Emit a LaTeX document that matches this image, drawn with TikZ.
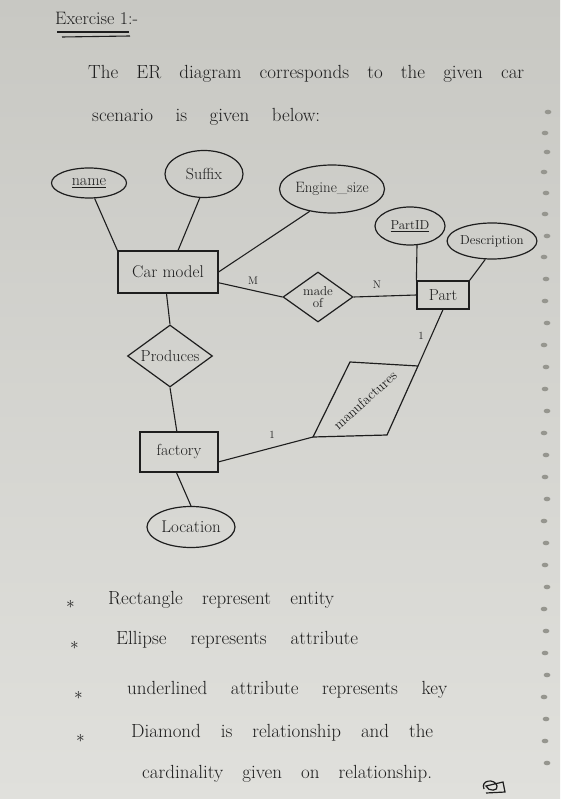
\documentclass[tikz,border=0pt]{standalone}
\usetikzlibrary{shapes.geometric}
\definecolor{ink}{HTML}{1E1E1E}
\definecolor{papertop}{HTML}{C8C8C3}
\definecolor{paperbot}{HTML}{E0E0DC}
\definecolor{holec}{HTML}{96968F}
\begin{document}
\begin{tikzpicture}[x=1pt,y=-1pt,
  every node/.style={text=ink, font=\fontsize{16}{18}\selectfont},
  attr/.style={ellipse, draw=ink, line width=1.2pt, inner sep=0pt},
  ent/.style={rectangle, draw=ink, line width=1.2pt, inner sep=0pt},
  rel/.style={diamond, draw=ink, line width=1.2pt, inner sep=0pt, shape aspect=1.4},
  conn/.style={draw=ink, line width=1.1pt},
  card/.style={font=\fontsize{11}{12}\selectfont, inner sep=0pt},
  txt/.style={anchor=west, inner sep=0pt, font=\fontsize{19}{21}\selectfont},
  hole/.style={fill=holec, draw=none}]
% paper
\shade[top color=papertop, bottom color=paperbot] (0,0) rectangle (560,799);
\useasboundingbox (0,0) rectangle (560,799);
% perforation marks
\foreach \yy/\xx in {112/548,133/545,152/547,172/544,193/546,214/545,236/547,257/544,279/546,301/545,323/547,345/544,367/546,389/545,411/547,433/544,455/546,477/545,499/547,521/544,543/546,565/545,587/547,609/544,631/546,653/545,675/547,697/544,719/546,741/545,763/547}
  \fill[hole] (\xx,\yy) ellipse (3.4pt and 2.3pt);

% heading
\node[txt, font=\fontsize{18}{20}\selectfont] (title) at (55,18) {Exercise 1:-};
\coordinate (ula) at (57,32); \coordinate (ulb) at (129,32);
\coordinate (ulc) at (62,37); \coordinate (uld) at (130,36);
\draw[conn] (ula) -- (ulb);
\draw[conn] (ulc) -- (uld);
\node[txt] (l1) at (88,74) {\makebox[436pt][s]{The ER diagram corresponds to the given car}};
\node[txt] (l2) at (92,117) {\makebox[228pt][s]{scenario is given below:}};

% attributes
\node[attr, minimum width=75pt, minimum height=30pt] (name) at (89,183) {\underline{name}};
\node[attr, minimum width=78pt, minimum height=47pt] (suffix) at (204,174) {Suffix};
\node[attr, minimum width=105pt, minimum height=48pt, font=\fontsize{15}{17}\selectfont] (engine) at (332,189) {Engine\_size};
\node[attr, minimum width=70pt, minimum height=38pt, font=\fontsize{13}{15}\selectfont] (partid) at (410,226) {\underline{PartID}};
\node[attr, minimum width=80pt, minimum height=36pt, font=\fontsize{13}{15}\selectfont] (desc) at (492,241) {Description};
\node[attr, minimum width=88pt, minimum height=41pt, font=\fontsize{17}{19}\selectfont] (loc) at (191,527) {Location};

% entities
\node[ent, minimum width=100pt, minimum height=42pt, font=\fontsize{17}{19}\selectfont] (car) at (168,272) {Car model};
\node[ent, minimum width=52pt, minimum height=28pt] (part) at (443,295) {Part};
\node[ent, minimum width=78pt, minimum height=40pt] (fac) at (179,452) {factory};

% relationships
\node[rel, minimum width=70pt, minimum height=50pt, align=center, font=\fontsize{13}{12}\selectfont] (made) at (318,297) {made\\of};
\node[rel, minimum width=85pt, minimum height=62pt] (prod) at (170,356) {Produces};

% manufactures (parallelogram)
\coordinate (mtl) at (350,362);
\coordinate (mtr) at (418,366);
\coordinate (mbr) at (387,435);
\coordinate (mbl) at (313,437);
\draw[conn, line width=1.2pt] (mtl) -- (mtr) -- (mbr) -- (mbl) -- cycle;
\node[rotate=42, font=\fontsize{14}{15}\selectfont, inner sep=0pt] (manu) at (365,400) {manufactures};

% connectors
\draw[conn] (name.-70) -- (car.north west);
\draw[conn] (suffix.-100) -- (car.65);
\draw[conn] (engine.-135) -- (car.east);
\draw[conn] (car.-12) -- (made.west);
\draw[conn] (made.east) -- (part.west);
\draw[conn] (partid.-70) -- (part.north west);
\draw[conn] (desc.-110) -- (part.north east);
\draw[conn] (car.-94) -- (prod.north);
\draw[conn] (prod.south) -- (fac.96);
\draw[conn] (fac.-97) -- (loc.north);
\draw[conn] (fac.-14) -- (mbl);
\draw[conn] (mtr) -- (part.south);

% cardinalities
\node[card] (cm) at (253,281) {M};
\node[card] (cn) at (377,285) {N};
\node[card] (c1a) at (421,336) {1};
\node[card] (c1b) at (272,435) {1};

% notes
\node[txt] (s1) at (66,604) {$\ast$};
\node[txt] (n1) at (108,600) {\makebox[226pt][s]{Rectangle represent entity}};
\node[txt] (s2) at (70,645) {$\ast$};
\node[txt] (n2) at (116,640) {\makebox[242pt][s]{Ellipse represents attribute}};
\node[txt] (s3) at (74,695) {$\ast$};
\node[txt] (n3) at (127,690) {\makebox[320pt][s]{underlined attribute represents key}};
\node[txt] (s4) at (76,738) {$\ast$};
\node[txt] (n4) at (131,733) {\makebox[302pt][s]{Diamond is relationship and the}};
\node[txt] (n5) at (142,774) {\makebox[290pt][s]{cardinality given on relationship.}};
% signature
\draw[conn, line width=1.2pt] (484,789) .. controls (480,780) and (495,778) .. (497,786) .. controls (499,791) and (488,792) .. (486,786) -- (503,782) -- (505,792) -- (486,793);
\end{tikzpicture}
\end{document}
